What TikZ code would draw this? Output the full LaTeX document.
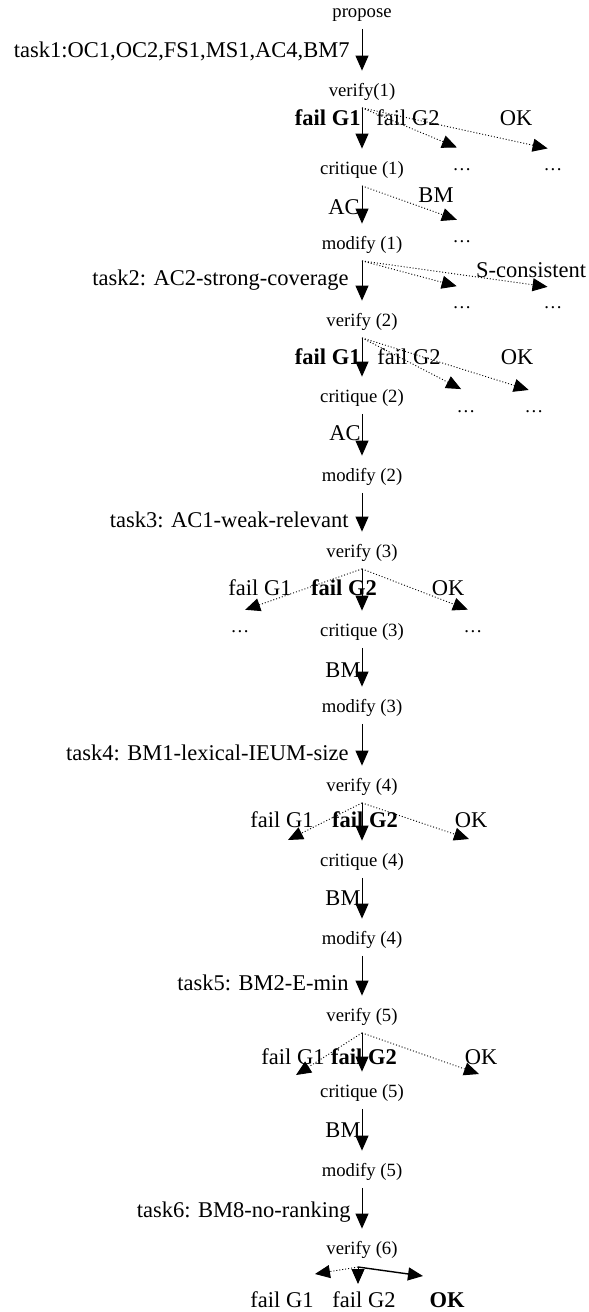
\documentclass[tikz,border=0pt]{standalone}
\usepackage{fontspec}
\setmainfont{Liberation Serif}
\usetikzlibrary{arrows.meta}

\begin{document}
\begin{tikzpicture}[x=0.5pt,y=-0.5pt,lbl/.style={font=\fontsize{9.35}{11}\selectfont,inner xsep=0pt,inner ysep=3.5pt,text height=6.5pt,text depth=2pt},big/.style={font=\fontsize{11.25}{13.5}\selectfont,inner sep=0pt,text height=7.5pt,text depth=0pt},flow/.style={line width=0.5pt,-{Triangle[length=7.5pt,width=6.5pt]},shorten >=2.75pt},alt/.style={flow,densely dotted,line width=0.45pt}]
		\useasboundingbox (0,0) rectangle (589,1312);

		% main column
		\node[lbl]						(prop)		at (362,13)		{propose};
		\node[lbl]						(ver1)		at (362,92)		{verify(1)};
		\node[lbl]						(crit1)		at (362,170)	{critique (1)};
		\node[lbl]						(mod1)		at (362,245)	{modify (1)};
		\node[lbl]						(ver2)		at (362,322)	{verify (2)};
		\node[lbl]						(crit2)		at (362,398)	{critique (2)};
		\node[lbl]						(mod2)		at (362,477)	{modify (2)};
		\node[lbl]						(ver3)		at (362,553)	{verify (3)};
		\node[lbl]						(crit3)		at (362,632)	{critique (3)};
		\node[lbl]						(mod3)		at (362,708)	{modify (3)};
		\node[lbl]						(ver4)		at (362,787)	{verify (4)};
		\node[lbl]						(crit4)		at (362,862)	{critique (4)};
		\node[lbl]						(mod4)		at (362,940)	{modify (4)};
		\node[lbl]						(ver5)		at (362,1017)	{verify (5)};
		\node[lbl]						(crit5)		at (362,1093)	{critique (5)};
		\node[lbl]						(mod5)		at (362,1172)	{modify (5)};
		\node[lbl]						(ver6)		at (362,1250)	{verify (6)};

		% tasks
		\node[big,anchor=east]			(t1)		at (350,50)		{task1:OC1,OC2,FS1,MS1,AC4,BM7};
		\node[big,anchor=east]			(t2)		at (349,278)	{task2: AC2-strong-coverage};
		\node[big,anchor=east]			(t3)		at (349,520)	{task3: AC1-weak-relevant};
		\node[big,anchor=east]			(t4)		at (349,753)	{task4: BM1-lexical-IEUM-size};
		\node[big,anchor=east]			(t5)		at (349,983)	{task5: BM2-E-min};
		\node[big,anchor=east]			(t6)		at (351,1210)	{task6: BM8-no-ranking};

		% outcomes
		\node[big,anchor=east]			(f11)		at (361,118)	{\textbf{fail G1}};
		\node[big]						(f12)		at (408,118)	{fail G2};
		\node[big]						(ok1)		at (516,118)	{OK};
		\node[big,anchor=east]			(f21)		at (361,357)	{\textbf{fail G1}};
		\node[big]						(f22)		at (409,357)	{fail G2};
		\node[big]						(ok2)		at (517,357)	{OK};
		\node[big]						(f31)		at (260,588)	{fail G1};
		\node[big]						(f32)		at (344,588)	{\textbf{fail G2}};
		\node[big]						(ok3)		at (448,588)	{OK};
		\node[big]						(f41)		at (282,820)	{fail G1};
		\node[big]						(f42)		at (365,820)	{\textbf{fail G2}};
		\node[big]						(ok4)		at (471,820)	{OK};
		\node[big]						(f51)		at (293,1057)	{fail G1};
		\node[big]						(f52)		at (364,1057)	{\textbf{fail G2}};
		\node[big]						(ok5)		at (481,1057)	{OK};
		\node[big]						(f61)		at (282,1300)	{fail G1};
		\node[big]						(f62)		at (364,1300)	{fail G2};
		\node[big]						(ok6)		at (447,1300)	{\textbf{OK}};

		% critique results
		\node[big]						(ac1)		at (344,207)	{AC};
		\node[big]						(bm1)		at (436,195)	{BM};
		\node[big]						(sc)		at (531,270)	{S-consistent};
		\node[big]						(ac2)		at (345,433)	{AC};
		\node[big]						(bm3)		at (343,670)	{BM};
		\node[big]						(bm4)		at (343,898)	{BM};
		\node[big]						(bm5)		at (343,1130)	{BM};

		% open ends
		\node[lbl,anchor=base]			(d1)		at (462,170)	{\ldots};
		\node[lbl,anchor=base]			(d2)		at (553,170)	{\ldots};
		\node[lbl,anchor=base]			(d3)		at (462,242)	{\ldots};
		\node[lbl,anchor=base]			(d4)		at (462,308)	{\ldots};
		\node[lbl,anchor=base]			(d5)		at (553,308)	{\ldots};
		\node[lbl,anchor=base]			(d6)		at (466,412)	{\ldots};
		\node[lbl,anchor=base]			(d7)		at (534,412)	{\ldots};
		\node[lbl,anchor=base]			(d8)		at (240,632)	{\ldots};
		\node[lbl,anchor=base]			(d9)		at (473,632)	{\ldots};
		\coordinate						(e4l)		at (288,840);
		\coordinate						(e4r)		at (469,839);
		\coordinate						(e5l)		at (296,1075);
		\coordinate						(e5r)		at (479,1074);
		\coordinate						(e6o)		at (358,1267);
		\coordinate						(e6l)		at (315,1274);
		\coordinate						(e6m)		at (358,1284);
		\coordinate						(e6r)		at (423,1276);

		\draw[flow] (prop.south) -- (ver1.north);
		\draw[flow] (ver1.south) -- (crit1.north);
		\draw[alt] (ver1.south) -- (d1.north);
		\draw[alt] (ver1.south) -- (d2.north);
		\draw[flow] (crit1.south) -- (mod1.north);
		\draw[alt] (crit1.south) -- (d3.north);
		\draw[flow] (mod1.south) -- (ver2.north);
		\draw[alt] (mod1.south) -- (d4.north);
		\draw[alt] (mod1.south) -- (d5.north);
		\draw[flow] (ver2.south) -- (crit2.north);
		\draw[alt] (ver2.south) -- (d6.north);
		\draw[alt] (ver2.south) -- (d7.north);
		\draw[flow] (crit2.south) -- (mod2.north);
		\draw[flow] (mod2.south) -- (ver3.north);
		\draw[flow] (ver3.south) -- (crit3.north);
		\draw[alt] (ver3.south) -- (d8.north);
		\draw[alt] (ver3.south) -- (d9.north);
		\draw[flow] (crit3.south) -- (mod3.north);
		\draw[flow] (mod3.south) -- (ver4.north);
		\draw[flow] (ver4.south) -- (crit4.north);
		\draw[alt,shorten >=0pt] (ver4.south) -- (e4l);
		\draw[alt,shorten >=0pt] (ver4.south) -- (e4r);
		\draw[flow] (crit4.south) -- (mod4.north);
		\draw[flow] (mod4.south) -- (ver5.north);
		\draw[flow] (ver5.south) -- (crit5.north);
		\draw[alt,shorten >=0pt] (ver5.south) -- (e5l);
		\draw[alt,shorten >=0pt] (ver5.south) -- (e5r);
		\draw[flow] (crit5.south) -- (mod5.north);
		\draw[flow] (mod5.south) -- (ver6.north);
		\draw[alt,shorten >=0pt] (e6o) -- (e6l);
		\draw[flow,shorten >=0pt] (e6o) -- (e6m);
		\draw[flow,shorten >=0pt,line width=0.7pt] (e6o) -- (e6r);
	\end{tikzpicture}
\end{document}
